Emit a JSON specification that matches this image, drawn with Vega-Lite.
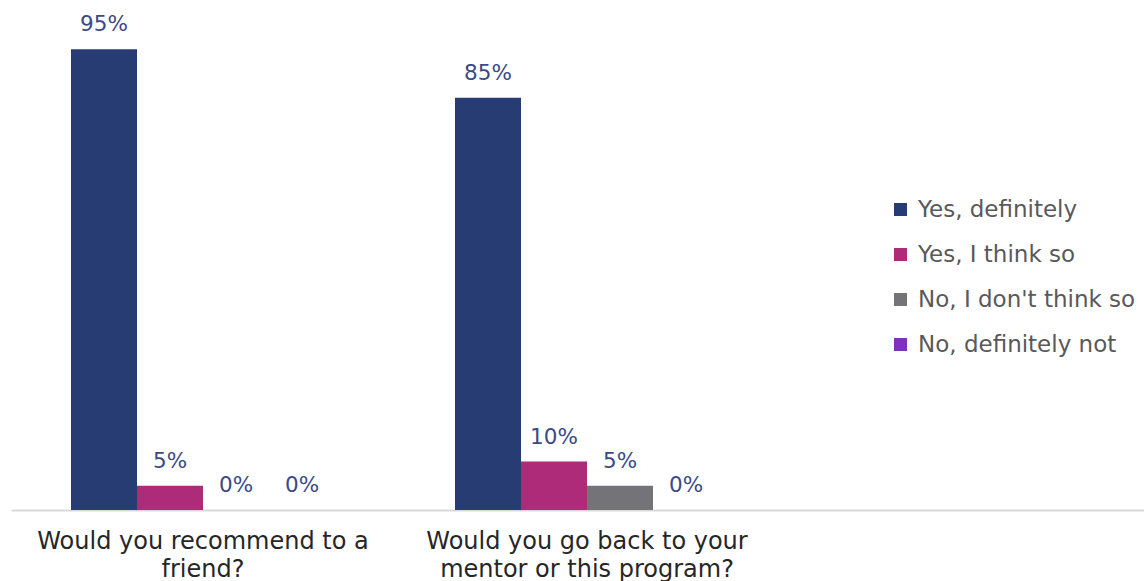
{
  "$schema": "https://vega.github.io/schema/vega-lite/v6.json",
  "width": 1152,
  "height": 485,
  "autosize": {"type": "none"},
  "padding": {"left": 11, "top": 25, "right": 0, "bottom": 71},
  "background": "white",
  "config": {"view": {"stroke": null}, "font": "DejaVu Sans"},
  "data": {
    "values": [
      {"q": "Would you recommend to a friend?", "answer": "Yes, definitely", "pct": 0.95},
      {"q": "Would you recommend to a friend?", "answer": "Yes, I think so", "pct": 0.05},
      {"q": "Would you recommend to a friend?", "answer": "No, I don't think so", "pct": 0},
      {"q": "Would you recommend to a friend?", "answer": "No, definitely not", "pct": 0},
      {"q": "Would you go back to your mentor or this program?", "answer": "Yes, definitely", "pct": 0.85},
      {"q": "Would you go back to your mentor or this program?", "answer": "Yes, I think so", "pct": 0.10},
      {"q": "Would you go back to your mentor or this program?", "answer": "No, I don't think so", "pct": 0.05},
      {"q": "Would you go back to your mentor or this program?", "answer": "No, definitely not", "pct": 0}
    ]
  },
  "encoding": {
    "x": {
      "field": "q",
      "type": "nominal",
      "sort": null,
      "scale": {
        "domain": ["Would you recommend to a friend?", "Would you go back to your mentor or this program?", "(none)"],
        "paddingInner": 0.3125,
        "paddingOuter": 0.15625
      },
      "axis": {
        "title": null,
        "labelAngle": 0,
        "labelFontSize": 24,
        "labelColor": "#262626",
        "labelPadding": 19,
        "labelLineHeight": 28,
        "labelLimit": 0,
        "ticks": false,
        "domainColor": "#d9d9d9",
        "domainWidth": 2,
        "labelExpr": "datum.value == 'Would you recommend to a friend?' ? ['Would you recommend to a', 'friend?'] : datum.value == 'Would you go back to your mentor or this program?' ? ['Would you go back to your', 'mentor or this program?'] : ''"
      }
    },
    "xOffset": {
      "field": "answer",
      "type": "nominal",
      "sort": null,
      "scale": {"domain": ["Yes, definitely", "Yes, I think so", "No, I don't think so", "No, definitely not"], "paddingInner": 0, "paddingOuter": 0}
    },
    "y": {
      "field": "pct",
      "type": "quantitative",
      "scale": {"domain": [0, 1]},
      "axis": null
    }
  },
  "layer": [
    {
      "mark": {"type": "bar"},
      "encoding": {
        "color": {
          "field": "answer",
          "type": "nominal",
          "sort": null,
          "scale": {
            "domain": ["Yes, definitely", "Yes, I think so", "No, I don't think so", "No, definitely not"],
            "range": ["#283c74", "#ae2b7a", "#747377", "#7f2fc1"]
          },
          "legend": {
            "title": null,
            "orient": "none",
            "legendX": 878,
            "legendY": 173,
            "symbolType": "square",
            "symbolSize": 169,
            "symbolStrokeWidth": 0,
            "labelFontSize": 23,
            "labelColor": "#595959",
            "labelOffset": 6,
            "rowPadding": 21,
            "labelLimit": 0
          }
        }
      }
    },
    {
      "mark": {"type": "text", "baseline": "middle", "align": "center", "dy": -24, "fontSize": 21.5, "color": "#3a4a86"},
      "encoding": {
        "text": {"field": "pct", "type": "quantitative", "format": ".0%"}
      }
    }
  ]
}
